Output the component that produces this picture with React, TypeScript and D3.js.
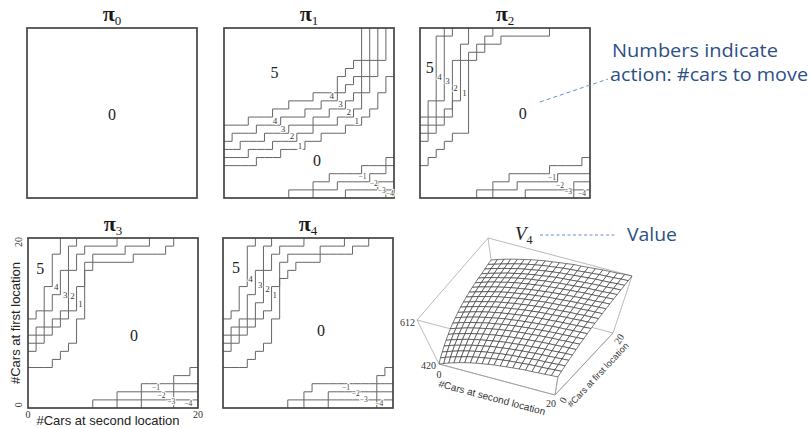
import React, { useRef, useEffect } from 'react';
import * as d3 from 'd3';

const N = 21; // 0..20 cars at each location

// Policy boundaries. "Up" arrays: per column (#cars at second location), the lowest row
// (#cars at first location) where the action is >= 5, 4, 3, 2, 1. 21 = never.
const pi1Up = [
  [9, 9, 9, 10, 10, 10, 11, 11, 12, 12, 12, 13, 13, 13, 15, 16, 17, 21, 21, 21, 21],
  [7, 8, 8, 8, 9, 9, 9, 10, 10, 10, 11, 11, 12, 12, 13, 14, 15, 17, 21, 21, 21],
  [6, 6, 7, 7, 7, 8, 8, 8, 9, 9, 9, 10, 10, 11, 11, 12, 13, 15, 17, 21, 21],
  [5, 5, 5, 6, 6, 6, 7, 7, 7, 8, 8, 9, 9, 9, 10, 10, 11, 13, 15, 17, 21],
  [4, 4, 4, 4, 5, 5, 5, 6, 6, 6, 7, 7, 8, 8, 8, 9, 9, 10, 11, 13, 15],
];
// "Down" arrays: per column, the number of rows from the bottom where the action is <= -1, -2, -3, -4.
const pi1Down = [
  [0, 0, 0, 0, 0, 0, 0, 0, 1, 1, 1, 2, 2, 3, 3, 3, 3, 4, 4, 4, 5],
  [0, 0, 0, 0, 0, 0, 0, 0, 0, 0, 0, 1, 1, 1, 2, 2, 2, 2, 3, 3, 4],
  [0, 0, 0, 0, 0, 0, 0, 0, 0, 0, 0, 0, 0, 0, 0, 1, 1, 1, 1, 2, 2],
  [0, 0, 0, 0, 0, 0, 0, 0, 0, 0, 0, 0, 0, 0, 0, 0, 0, 0, 0, 0, 1],
];

const pi2Up = [
  [10, 12, 20, 21, 21, 21, 21, 21, 21, 21, 21, 21, 21, 21, 21, 21, 21, 21, 21, 21, 21],
  [9, 10, 12, 20, 21, 21, 21, 21, 21, 21, 21, 21, 21, 21, 21, 21, 21, 21, 21, 21, 21],
  [8, 9, 10, 11, 17, 19, 21, 21, 21, 21, 21, 21, 21, 21, 21, 21, 21, 21, 21, 21, 21],
  [7, 8, 9, 10, 12, 17, 18, 19, 20, 21, 21, 21, 21, 21, 21, 21, 21, 21, 21, 21, 21],
  [4, 5, 6, 7, 8, 8, 17, 18, 19, 19, 20, 20, 20, 20, 20, 20, 21, 21, 21, 21, 21],
];
const pi2Down = [
  [0, 0, 0, 0, 0, 0, 0, 1, 1, 2, 2, 3, 3, 3, 3, 3, 4, 4, 4, 4, 5],
  [0, 0, 0, 0, 0, 0, 0, 0, 0, 1, 1, 1, 2, 2, 2, 2, 2, 3, 3, 3, 3],
  [0, 0, 0, 0, 0, 0, 0, 0, 0, 0, 0, 0, 0, 1, 1, 1, 1, 1, 1, 2, 2],
  [0, 0, 0, 0, 0, 0, 0, 0, 0, 0, 0, 0, 0, 0, 0, 0, 0, 0, 0, 1, 1],
];

const pi3Up = [
  [11, 12, 15, 19, 21, 21, 21, 21, 21, 21, 21, 21, 21, 21, 21, 21, 21, 21, 21, 21, 21],
  [9, 10, 12, 14, 17, 20, 21, 21, 21, 21, 21, 21, 21, 21, 21, 21, 21, 21, 21, 21, 21],
  [8, 9, 10, 11, 12, 17, 19, 20, 20, 20, 20, 21, 21, 21, 21, 21, 21, 21, 21, 21, 21],
  [7, 8, 9, 10, 11, 12, 15, 18, 19, 19, 19, 19, 20, 20, 20, 21, 21, 21, 21, 21, 21],
  [5, 5, 5, 6, 7, 8, 11, 17, 18, 18, 18, 18, 18, 19, 19, 19, 19, 20, 21, 21, 21],
];
const pi3Down = [
  [0, 0, 0, 0, 0, 0, 0, 0, 1, 1, 1, 2, 2, 2, 3, 3, 3, 3, 4, 4, 5],
  [0, 0, 0, 0, 0, 0, 0, 0, 0, 0, 0, 1, 1, 1, 2, 2, 2, 2, 3, 3, 3],
  [0, 0, 0, 0, 0, 0, 0, 0, 0, 0, 0, 0, 0, 0, 1, 1, 1, 1, 2, 2, 2],
  [0, 0, 0, 0, 0, 0, 0, 0, 0, 0, 0, 0, 0, 0, 0, 0, 0, 0, 1, 1, 1],
];

const pi4Up = [
  [11, 12, 15, 20, 21, 21, 21, 21, 21, 21, 21, 21, 21, 21, 21, 21, 21, 21, 21, 21, 21],
  [9, 10, 11, 14, 17, 20, 21, 21, 21, 21, 21, 21, 21, 21, 21, 21, 21, 21, 21, 21, 21],
  [8, 9, 10, 11, 13, 17, 19, 20, 20, 20, 21, 21, 21, 21, 21, 21, 21, 21, 21, 21, 21],
  [7, 8, 9, 10, 11, 12, 15, 18, 19, 19, 19, 19, 20, 20, 20, 21, 21, 21, 21, 21, 21],
  [5, 5, 5, 6, 7, 8, 11, 16, 17, 18, 18, 18, 19, 19, 19, 19, 20, 20, 21, 21, 21],
];
const pi4Down = [
  [0, 0, 0, 0, 0, 0, 0, 0, 1, 1, 2, 3, 3, 3, 3, 3, 3, 3, 3, 4, 5],
  [0, 0, 0, 0, 0, 0, 0, 0, 0, 0, 1, 1, 1, 2, 2, 2, 2, 2, 2, 3, 3],
  [0, 0, 0, 0, 0, 0, 0, 0, 0, 0, 0, 0, 0, 1, 1, 1, 1, 1, 1, 2, 2],
  [0, 0, 0, 0, 0, 0, 0, 0, 0, 0, 0, 0, 0, 0, 0, 0, 0, 0, 0, 1, 1],
];

// V4(first, second): rows = #cars at first location 0..20, columns = #cars at second location 0..20
const v4 = [
  [420, 429, 438, 446, 454, 461, 468, 474, 479, 484, 489, 492, 496, 499, 502, 505, 506, 508, 510, 512, 514],
  [433, 442, 450, 458, 465, 473, 479, 485, 490, 495, 499, 503, 507, 509, 512, 515, 517, 518, 520, 522, 524],
  [444, 453, 461, 469, 476, 483, 489, 495, 500, 504, 509, 512, 516, 518, 521, 524, 526, 527, 529, 531, 533],
  [455, 464, 472, 479, 486, 493, 499, 504, 510, 514, 518, 522, 525, 528, 530, 533, 535, 536, 538, 540, 542],
  [465, 474, 481, 489, 496, 502, 508, 513, 518, 523, 527, 530, 533, 536, 538, 541, 543, 544, 546, 548, 549],
  [475, 484, 491, 498, 505, 511, 517, 522, 527, 531, 535, 538, 542, 544, 547, 549, 551, 552, 554, 556, 557],
  [484, 492, 499, 507, 513, 519, 525, 530, 535, 539, 543, 546, 549, 551, 554, 556, 558, 559, 561, 562, 564],
  [492, 500, 507, 514, 520, 526, 532, 536, 541, 545, 549, 552, 555, 557, 560, 562, 564, 565, 567, 568, 570],
  [499, 507, 514, 521, 527, 533, 538, 543, 548, 551, 555, 558, 561, 564, 566, 568, 570, 571, 573, 574, 576],
  [506, 513, 520, 527, 533, 539, 544, 549, 553, 557, 561, 564, 567, 569, 571, 573, 575, 576, 578, 579, 581],
  [512, 519, 526, 533, 539, 544, 550, 554, 558, 562, 566, 569, 572, 574, 576, 578, 580, 581, 583, 584, 586],
  [517, 524, 531, 537, 543, 549, 554, 558, 563, 566, 570, 573, 576, 578, 580, 582, 584, 585, 587, 588, 589],
  [522, 529, 536, 542, 548, 554, 558, 563, 567, 571, 574, 577, 580, 582, 584, 586, 588, 589, 591, 592, 593],
  [526, 533, 539, 546, 551, 557, 562, 566, 570, 574, 577, 580, 583, 585, 587, 589, 591, 592, 594, 595, 596],
  [530, 537, 543, 549, 555, 560, 565, 569, 573, 577, 580, 583, 586, 588, 590, 592, 594, 595, 596, 598, 599],
  [533, 540, 547, 553, 558, 564, 569, 573, 577, 580, 584, 586, 589, 591, 593, 595, 597, 598, 599, 601, 602],
  [536, 543, 549, 555, 560, 566, 571, 575, 579, 582, 586, 588, 591, 593, 595, 597, 599, 600, 601, 603, 604],
  [538, 545, 551, 557, 563, 568, 573, 577, 581, 584, 588, 591, 593, 595, 597, 599, 601, 602, 603, 605, 606],
  [541, 548, 554, 560, 565, 571, 575, 579, 583, 587, 590, 593, 595, 597, 599, 601, 603, 604, 605, 607, 608],
  [544, 550, 556, 562, 568, 573, 578, 582, 586, 589, 592, 595, 597, 599, 601, 603, 605, 606, 607, 609, 610],
  [546, 553, 559, 565, 570, 575, 580, 584, 588, 591, 594, 597, 600, 601, 603, 605, 607, 608, 609, 611, 612],
];
const vTicks = [420, 612];
const carTicks = [0, 20];

const SERIF = "'Liberation Serif', 'DejaVu Serif', serif";
const SANS = "'Liberation Sans', Arial, sans-serif";
const HAND = "'Open Sans', 'Noto Sans', sans-serif";

// panel layout (pixels) and where the action numbers sit (cell units: column, row)
const SIZE = 170;
const panels = [
  { k: '0', left: 27, top: 28, up: [] as number[][], down: [] as number[][],
    labels: [['0', 10.5, 10.3, 'big']] },
  { k: '1', left: 224, top: 28, up: pi1Up, down: pi1Down,
    labels: [['5', 6.25, 15.5, 'big'], ['0', 11.5, 4.6, 'big'], ['4', 6.3, 9.5, 's'], ['3', 7.3, 8.5, 's'],
      ['2', 8.4, 7.7, 's'], ['1', 9.4, 6.4, 's'], ['4', 13.3, 12.6, 's'], ['3', 14.4, 11.6, 's'],
      ['2', 15.4, 10.6, 's'], ['1', 16.4, 9.5, 's'], ['−1', 17.1, 2.6, 'n'], ['−2', 18.5, 1.8, 'n'],
      ['−3', 19.5, 0.9, 'n'], ['−4', 20.5, 0.55, 'n']] },
  { k: '2', left: 420, top: 28, up: pi2Up, down: pi2Down,
    labels: [['5', 1.2, 16.1, 'big'], ['4', 2.4, 14.9, 's'], ['3', 3.4, 14.4, 's'], ['2', 4.4, 13.6, 's'],
      ['1', 5.5, 13.0, 's'], ['0', 12.7, 10.5, 'big'], ['−1', 16.3, 2.5, 'n'], ['−2', 17.3, 1.5, 'n'],
      ['−3', 18.3, 0.85, 'n'], ['−4', 20.0, 0.55, 'n']] },
  { k: '3', left: 28, top: 238, up: pi3Up, down: pi3Down,
    labels: [['5', 1.5, 17.2, 'big'], ['4', 3.5, 14.9, 's'], ['3', 4.6, 13.9, 's'], ['2', 5.5, 13.8, 's'],
      ['1', 6.5, 12.9, 's'], ['0', 13.1, 8.9, 'big'], ['−1', 15.8, 2.5, 'n'], ['−2', 16.5, 1.6, 'n'],
      ['−3', 17.7, 0.8, 'n'], ['−4', 19.8, 0.5, 'n']] },
  { k: '4', left: 223, top: 238, up: pi4Up, down: pi4Down,
    labels: [['5', 1.6, 17.4, 'big'], ['4', 3.4, 15.9, 's'], ['3', 4.6, 15.2, 's'], ['2', 5.5, 14.7, 's'],
      ['1', 6.4, 13.9, 's'], ['0', 12.1, 9.6, 'big'], ['−1', 15.2, 2.5, 'n'], ['−2', 16.4, 1.8, 'n'],
      ['−3', 17.4, 1.0, 'n'], ['−4', 19.3, 0.6, 'n']] },
];

// staircase above which action >= a
const upSteps = (f: number[]) => {
  const pts: [number, number][] = [];
  if (f[0] >= N) return pts;
  pts.push([0, f[0]]);
  for (let c = 0; c < N; c++) {
    if (f[c] >= N) break;
    pts.push([c + 1, f[c]]);
    if (c < N - 1) pts.push([c + 1, Math.min(f[c + 1], N)]);
  }
  return pts;
};
// staircase below which action <= -a
const downSteps = (g: number[]) => {
  const pts: [number, number][] = [];
  const c0 = g.findIndex(d => d > 0);
  if (c0 < 0) return pts;
  pts.push([c0, 0]);
  for (let c = c0; c < N; c++) {
    pts.push([c, g[c]]);
    pts.push([c + 1, g[c]]);
  }
  return pts;
};

// 3D box of the value plot: projected floor and lid, interpolated by height
const cam = {
  floor: [439, 364], fu: [116, 31], fv: [58, -62],
  lid: [417, 320], tu: [144, 38], tv: [71, -82],
};

const App = () => {
  const svgRef = useRef<SVGSVGElement>(null);

  useEffect(() => {
    const svg = d3.select(svgRef.current);
    svg.selectAll('*').remove();

    panels.forEach((p, pi) => {
      const x = d3.scaleLinear().domain([0, N]).range([p.left, p.left + SIZE]);
      const y = d3.scaleLinear().domain([0, N]).range([p.top + SIZE, p.top]);
      const line = d3.line<[number, number]>().x(d => x(d[0])).y(d => y(d[1]));
      const g = svg.append('g');

      [...p.up.map(upSteps), ...p.down.map(downSteps)].forEach(pts => {
        if (pts.length < 2) return;
        g.append('path').attr('d', line(pts)).attr('fill', 'none')
          .attr('stroke', '#666').attr('stroke-width', 1);
      });

      g.append('rect').attr('x', x(0)).attr('y', y(N)).attr('width', SIZE).attr('height', SIZE)
        .attr('fill', 'none').attr('stroke', '#444').attr('stroke-width', 1.7);

      const title = g.append('text').attr('x', x(N / 2)).attr('y', p.top - 7)
        .attr('text-anchor', 'middle').style('font-family', SERIF).style('fill', '#1a1a1a');
      title.append('tspan').text('π').style('font-size', '22px').style('font-weight', 'bold');
      title.append('tspan').text(p.k).attr('dy', 4).style('font-size', '13px');

      p.labels.forEach(([t, c, r, kind]) => {
        const fs = kind === 'big' ? 16 : kind === 's' ? 9 : 7.5;
        const lab = g.append('text').attr('x', x(c as number)).attr('y', y(r as number))
          .attr('text-anchor', 'middle').attr('dominant-baseline', 'central')
          .style('font-family', SERIF).style('font-size', `${fs}px`)
          .style('fill', kind === 'big' ? '#222' : '#3a3a3a').text(t as string);
        if (kind !== 'big') {
          lab.style('stroke', '#fff').style('stroke-width', '2px').style('paint-order', 'stroke');
        }
      });

      if (pi === 3) {
        g.append('text').attr('transform', `translate(${p.left - 13},${y(N / 2)}) rotate(-90)`)
          .attr('text-anchor', 'middle').attr('dominant-baseline', 'central')
          .style('font-family', SANS).style('font-size', '13px').style('fill', '#222')
          .text('#Cars at first location');
        carTicks.forEach(t => {
          g.append('text').attr('transform', `translate(${p.left - 10},${y(t === 0 ? 0.4 : N - 0.5)}) rotate(-90)`)
            .attr('text-anchor', 'middle').attr('dominant-baseline', 'central')
            .style('font-family', SERIF).style('font-size', '10px').style('fill', '#333').text(t);
          g.append('text').attr('x', x(t === 0 ? 0 : N)).attr('y', p.top + SIZE + 6)
            .attr('text-anchor', 'middle').attr('dominant-baseline', 'central')
            .style('font-family', SERIF).style('font-size', '10px').style('fill', '#333').text(t);
        });
        g.append('text').attr('x', x(N / 2) - 5).attr('y', p.top + SIZE + 12)
          .attr('text-anchor', 'middle').attr('dominant-baseline', 'central')
          .style('font-family', SANS).style('font-size', '13px').style('fill', '#222')
          .text('#Cars at second location');
      }
    });

    // ---- V4 surface ----
    const hScale = d3.scaleLinear().domain([420, 612]).range([0, 1]);
    const P = (u: number, v: number, h: number): [number, number] => {
      const a = u / 20, b = v / 20;
      const fx = cam.floor[0] + a * cam.fu[0] + b * cam.fv[0];
      const fy = cam.floor[1] + a * cam.fu[1] + b * cam.fv[1];
      const tx = cam.lid[0] + a * cam.tu[0] + b * cam.tv[0];
      const ty = cam.lid[1] + a * cam.tu[1] + b * cam.tv[1];
      return [fx + h * (tx - fx), fy + h * (ty - fy)];
    };
    const g3 = svg.append('g');
    const edge = (a: [number, number], b: [number, number], col = '#a8a8a8') =>
      g3.append('line').attr('x1', a[0]).attr('y1', a[1]).attr('x2', b[0]).attr('y2', b[1])
        .attr('stroke', col).attr('stroke-width', 0.8);
    const boxEdges: [number[], number[]][] = [
      [[0, 20, 0], [20, 20, 0]], [[0, 20, 0], [0, 0, 0]], [[0, 20, 0], [0, 20, 1]],
      [[0, 0, 1], [0, 20, 1]], [[0, 20, 1], [20, 20, 1]], [[0, 0, 0], [0, 0, 1]],
      [[20, 20, 0], [20, 20, 1]], [[0, 0, 1], [20, 0, 1]], [[20, 0, 1], [20, 20, 1]],
      [[20, 0, 0], [20, 0, 1]], [[0, 0, 0], [20, 0, 0]], [[20, 0, 0], [20, 20, 0]],
    ];
    boxEdges.forEach(([a, b]) => edge(P(a[0], a[1], a[2]), P(b[0], b[1], b[2])));

    const quads: { key: number; pts: [number, number][] }[] = [];
    for (let v = 0; v < N - 1; v++) {
      for (let u = 0; u < N - 1; u++) {
        const pts = [
          P(u, v, hScale(v4[v][u])), P(u + 1, v, hScale(v4[v][u + 1])),
          P(u + 1, v + 1, hScale(v4[v + 1][u + 1])), P(u, v + 1, hScale(v4[v + 1][u])),
        ];
        quads.push({ key: 2 * v - u, pts });
      }
    }
    quads.sort((a, b) => b.key - a.key);
    const poly = d3.line<[number, number]>().curve(d3.curveLinearClosed);
    quads.forEach(q => {
      g3.append('path').attr('d', poly(q.pts)).attr('fill', '#fff')
        .attr('stroke', '#333').attr('stroke-width', 0.65).attr('stroke-linejoin', 'round');
    });
    // front floor edges and the front vertical below the surface
    edge(P(0, 0, 0), P(20, 0, 0), '#9a9a9a');
    edge(P(20, 0, 0), P(20, 20, 0), '#9a9a9a');
    edge(P(20, 0, 0), P(20, 0, hScale(v4[0][20])), '#9a9a9a');

    const small = (t: string | number, pt: [number, number], dx: number, dy: number, anchor = 'middle', rot = 0) =>
      g3.append('text').attr('transform', `translate(${pt[0] + dx},${pt[1] + dy}) rotate(${rot})`)
        .attr('text-anchor', anchor).attr('dominant-baseline', 'central')
        .style('font-family', SERIF).style('font-size', '10px').style('fill', '#333').text(t);
    small(vTicks[0], P(0, 0, 0), -3, 1, 'end');
    small(vTicks[1], P(0, 0, 1), -2, 2, 'end');
    small(carTicks[0], P(0, 0, 0), 0, 10);
    small(carTicks[1], P(20, 0, 0), -4, 8);
    small(carTicks[0], P(20, 0, 0), 8, 5, 'middle', -60);
    small(carTicks[1], P(20, 20, 0), 6, 6, 'middle', -60);

    const axisTitle = (t: string, a: [number, number], b: [number, number], dx: number, dy: number, fs: number) => {
      const ang = (Math.atan2(b[1] - a[1], b[0] - a[0]) * 180) / Math.PI;
      g3.append('text')
        .attr('transform', `translate(${(a[0] + b[0]) / 2 + dx},${(a[1] + b[1]) / 2 + dy}) rotate(${ang})`)
        .attr('text-anchor', 'middle').attr('dominant-baseline', 'central')
        .style('font-family', SANS).style('font-size', `${fs}px`).style('fill', '#333').text(t);
    };
    axisTitle('#Cars at second location', P(0, 0, 0), P(20, 0, 0), -5, 18, 10);
    axisTitle('#Cars at first location', P(20, 0, 0), P(20, 20, 0), 14, 11, 9);

    const vt = g3.append('text').attr('x', 515).attr('y', 240)
      .style('font-family', SERIF).style('font-style', 'italic').style('fill', '#222');
    vt.append('tspan').text('V').style('font-size', '19px');
    vt.append('tspan').text('4').attr('dy', 4).style('font-size', '12px').style('font-style', 'normal');

    // ---- blue annotations ----
    const blue = '#2d4f88';
    const dash = '#5f8fd6';
    svg.append('line').attr('x1', 540).attr('y1', 102).attr('x2', 608).attr('y2', 79)
      .attr('stroke', dash).attr('stroke-width', 1).attr('stroke-dasharray', '4,3');
    svg.append('text').attr('x', 612).attr('y', 57).attr('textLength', 166).attr('lengthAdjust', 'spacingAndGlyphs')
      .style('font-family', HAND).style('font-size', '19px').style('fill', blue).text('Numbers indicate');
    svg.append('text').attr('x', 610).attr('y', 81).attr('textLength', 198).attr('lengthAdjust', 'spacingAndGlyphs')
      .style('font-family', HAND).style('font-size', '19px').style('fill', blue).text('action: #cars to move');
    svg.append('line').attr('x1', 540).attr('y1', 235).attr('x2', 617).attr('y2', 235)
      .attr('stroke', dash).attr('stroke-width', 1).attr('stroke-dasharray', '3,2.5');
    svg.append('text').attr('x', 627).attr('y', 241).attr('textLength', 50).attr('lengthAdjust', 'spacingAndGlyphs')
      .style('font-family', HAND).style('font-size', '19px').style('fill', blue).text('Value');
  }, []);

  return (
    <svg ref={svgRef} width={810} height={428}
      style={{ position: 'absolute', left: 0, top: 0, background: '#fff' }} />
  );
};

export default App;
